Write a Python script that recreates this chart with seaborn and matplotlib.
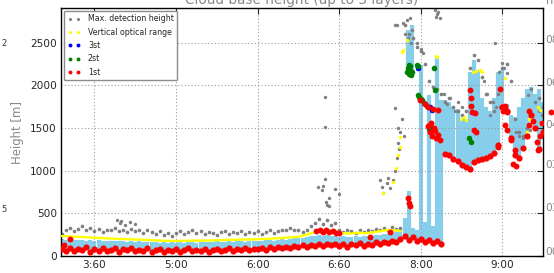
import numpy as np
import pandas as pd
import seaborn as sns
import matplotlib.pyplot as plt
from matplotlib.lines import Line2D

nan = np.nan

# sample grid: decimal hours, every 3 min from 3:36 to 9:30
times = np.round(np.arange(3.6, 9.5001, 0.05), 3)

# max. detection height (gray)
max_det = [260, 300, 330, 290, 320, 350, 300, 330, 290, 320, 280, 310, 300, 330, 290,
           310, 280, 320, 290, 300, 270, 300, 280, 260, 290, 250, 270, 240,
           270, 290, 260, 280, 300, 270, 290, 260, 280, 270, 250, 280, 290, 260, 280,
           270, 290, 260, 280, 270,
           290, 260, 280, 300, 270, 290, 310, 300, 330, 310,
           300, 280, 310, 350, 390, 430, 380, 420, 360, 390,
           310, 280, 300, 290, 270, 300, 280, 310, 290, 320, 300, 330, 310, 340, 320,
           330, 2700, 2600, 2550, 2450, 2400, 2250, 2050, 1980, 1950, 1900,
           1800, 1850, 1750, 1700, 1650, 1700, 2200, 2350, 2300, 2100, 1900, 1800, 1700,
           1900, 2200, 2250, 2050, 1600, 1450, 1400, 1500, 1950, 1800, 1850, 1750]

# vertical optical range (yellow)
vor = [234, 231, 230, 228, 224, 223, 219, 218, 214, 211, 210, 206, 205, 202, 201,
       198, 198, 195, 193, 192, 189, 188, 185, 184, 181, 178, 178, 176,
       176, 177, 179, 178, 180, 181, 180, 182, 181, 183, 186, 185, 187, 189, 190,
       191, 192, 193, 195, 194,
       196, 198, 201, 203, 205, 208, 212, 215, 219, 222,
       225, 235, 250, 265, 280, 295, 300, 305, 295, 290,
       275, 268, 265, 262, 270, 272, 268, 265, 278, 282, 290, 298, 305, 302, 300,
       290] + [nan] * 35

# 1st cloud layer (red)
layer1 = [80, 60, 95, 55, 85, 65, 100, 50, 80, 60, 90, 55, 75, 95, 50,
          80, 65, 90, 55, 75, 60, 90, 50, 70, 85, 45, 75, 60,
          80, 50, 70, 90, 55, 75, 60, 85, 50, 70, 80, 55, 75, 90, 60, 80, 65, 90, 70, 85,
          80, 95, 75, 100, 85, 105, 90, 110, 95, 115,
          110, 125, 105, 130, 120, 140, 115, 135, 125, 145,
          120, 140, 110, 135, 125, 150, 120, 145, 130, 160, 140, 165, 150, 180, 160,
          200, 230, 190, 220, 170, 200, 160, 190, 150, 180, 140,
          1200, 1180, 1140, 1110, 1070, 1040, 1020, 1100, 1120, 1130, 1150, 1170, 1210,
          1300, 1750, 1700, 1380, 1180, 1150, 1260, 1400, 1650, 1500, 1250, 1450]

# top of the light blue column (it starts at the 1st layer)
sky_hi = [195, 190, 200, 188, 185, 192, 180, 186, 178, 182, 175, 180, 172, 178, 170,
          176, 168, 172, 165, 170, 163, 168, 160, 165, 158, 162, 155, 160,
          158, 162, 155, 160, 165, 158, 162, 168, 160, 165, 170, 163, 168, 172, 165,
          170, 175, 168, 172, 178,
          180, 175, 182, 188, 180, 190, 195, 188, 200, 205,
          210, 215, 225, 235, 240, 250, 238, 245, 235, 240,
          225, 230, 220, 228, 232, 225, 235, 240, 232, 245, 250, 255, 262, 270, 280,
          300, 450, 760, 330, 300, 2240, 400, 1880, 350, 2330, 1830,
          1830, 1800, 1740, 1720, 1620, 1600, 2150, 2300, 2180, 1850, 1750, 1700, 1850,
          2150, 2180, 1780, 1650, 1630, 1750, 1850, 1950, 1980, 1900, 1950, 1800]

sky_extra_t = [7.84, 7.89]
sky_extra_lo = [2150, 2100]
sky_extra_hi = [2650, 2700]

# scattered max. detection heights
gray_t = [4.28, 4.31, 4.33, 4.37, 4.44, 4.50,
          6.74, 6.79, 6.80, 6.83, 6.83, 6.83, 6.84, 6.85, 6.87, 6.88, 6.95, 7.00,
          7.50, 7.52, 7.54, 7.58, 7.60, 7.62, 7.66, 7.68, 7.71, 7.73, 7.72, 7.68, 7.72,
          7.74, 7.77, 7.79,
          7.68, 7.71, 7.78, 7.81, 7.83, 7.84, 7.87, 7.88, 7.89,
          7.95, 8.00, 8.03,
          8.17, 8.19, 8.20, 8.21, 8.24,
          8.28, 8.32, 8.36, 8.42, 8.46, 8.50,
          8.77, 8.81, 8.85, 8.88, 8.92, 8.91,
          8.96, 8.99, 9.02, 9.06,
          9.17, 9.20, 9.25, 9.29, 9.34, 9.31, 9.45, 9.49]
gray_h = [420, 385, 410, 365, 400, 370,
          812, 773, 820, 1865, 1514, 901, 636, 597, 585, 675, 784, 722,
          890, 812, 737, 855, 913, 796, 890, 1000, 1150, 1250, 1320, 1730, 1500,
          1450, 1600, 1400,
          2700, 2700, 2730, 2600, 2760, 2550, 2790, 2500, 2650,
          2500, 2420, 2380,
          2880, 2800, 2830, 2860, 2790,
          1900, 1780, 1850, 1700, 1800, 1750,
          2050, 1900, 1650, 1800, 1750, 2500,
          2150, 2260, 2200, 2140,
          1450, 1400, 1380, 1420, 1470, 1880, 1700, 1650]

# scattered vertical optical range
vor_t = [7.54, 7.66, 7.70, 7.72, 7.74, 7.75, 7.77, 7.78, 7.83, 8.19, 8.20,
         8.49, 8.53, 8.55, 8.64, 8.68, 8.72, 8.75, 9.03, 9.30, 9.32, 9.34, 9.43, 9.46]
vor_h = [737, 866, 1030, 1180, 1280, 1390, 2390, 2410, 2530, 2340, 2330,
         1610, 1630, 1590, 2150, 2170, 2180, 2160, 2080, 1450, 1600, 1710, 1745, 1710]

# extra 1st layer detections
red_t = [3.63, 3.70,
         6.72, 6.76, 6.80, 6.84, 6.88, 6.92, 6.96, 7.00, 7.38, 7.62,
         7.84, 7.855, 7.87,
         7.99, 8.05, 8.09, 8.15, 8.21,
         8.09, 8.11, 8.12, 8.14, 8.16, 8.17, 8.19, 8.21, 8.235,
         8.60, 8.61, 8.62, 8.63, 8.66, 8.65, 8.68,
         8.94, 8.97, 8.99, 9.01, 9.03, 9.05, 9.03, 9.06, 9.10, 9.13, 9.15, 9.17,
         9.32, 9.33, 9.37, 9.42, 9.44, 9.46, 9.48]
red_h = [128, 200,
         290, 305, 280, 300, 285, 295, 275, 265, 220, 280,
         680, 620, 590,
         1830, 1780, 1745, 1720, 1710,
         1520, 1450, 1560, 1400, 1500, 1460, 1380, 1420, 1360,
         1940, 1850, 1760, 1690, 1670, 1480, 1450,
         1280, 1955, 1740, 1700, 1760, 1690, 1530, 1480, 1360, 1080, 1240, 1050,
         1530, 1700, 1580, 1330, 1240, 1400, 1560]

# 2nd layer (green) and 3rd layer (blue)
green_t = [7.83, 7.84, 7.85, 7.85, 7.86, 7.87, 7.87, 7.88, 7.89,
           7.95, 7.97, 7.96, 7.98, 8.00, 8.02, 8.04, 8.08, 8.10, 8.11, 8.15,
           8.16, 8.17, 8.59, 8.61]
green_h = [2150, 2200, 2130, 2170, 2240, 2180, 2230, 2120, 2160,
           2240, 2230, 1890, 1860, 1840, 1830, 1790, 1760, 1490, 1530, 1500,
           2200, 1945, 1380, 1340]
blue_t = [7.97, 8.11, 8.14]
blue_h = [2200, 1740, 1715]

# point of the neighbour panel, cut at the right edge
red_out_t = [9.60]
red_out_h = [1690]

# cut-off neighbour panel labels on the right
right_labels = ["08", "06", "04", "03", "01", "00"]
right_label_y = [40, 83, 125, 165, 208, 252]

xtick_pos = [4, 5, 6, 7, 8, 9]
xtick_labels = ["3:60", "5:00", "6:00", "6:60", "8:00", "9:00"]

sns.set_style("white")
plt.rcParams['font.family'] = ['DejaVu Sans']

W, H = 554, 273
fig = plt.figure(figsize=(W / 100, H / 100), dpi=100)
ax = fig.add_axes([61 / W, 17 / H, 482 / W, 248 / H])

ax.vlines(times, layer1, sky_hi, color='skyblue', lw=3.0, zorder=1)
ax.vlines(sky_extra_t, sky_extra_lo, sky_extra_hi, color='skyblue', lw=3.0, zorder=1)

df = pd.DataFrame({"t": times, "maxdet": max_det, "vor": vor, "l1": layer1})
sns.scatterplot(data=df, x="t", y="maxdet", color='gray', s=7, linewidth=0,
                ax=ax, legend=False, zorder=2)
sns.scatterplot(x=gray_t, y=gray_h, color='gray', s=6, linewidth=0, ax=ax,
                legend=False, zorder=2)
sns.lineplot(data=df.dropna(), x="t", y="vor", color='yellow', lw=1.7,
             estimator=None, ax=ax, legend=False, zorder=3)
sns.scatterplot(x=vor_t, y=vor_h, color='yellow', s=6, linewidth=0, ax=ax,
                legend=False, zorder=3)
sns.scatterplot(x=blue_t, y=blue_h, color='blue', s=16, linewidth=0, ax=ax,
                legend=False, zorder=4)
sns.scatterplot(x=green_t, y=green_h, color='green', s=16, linewidth=0, ax=ax,
                legend=False, zorder=4)
sns.scatterplot(data=df, x="t", y="l1", color='red', s=20, linewidth=0, ax=ax,
                legend=False, zorder=5)
sns.scatterplot(x=red_t, y=red_h, color='red', s=18, linewidth=0, ax=ax,
                legend=False, zorder=5)
sns.scatterplot(x=red_out_t, y=red_out_h, color='red', s=18, linewidth=0, ax=ax,
                legend=False, zorder=5)
ax.collections[-1].set_clip_on(False)

ax.set_xlim(3.59, 9.497)
ax.set_ylim(0, 2904)
ax.set_xticks(xtick_pos)
ax.set_xticklabels(xtick_labels)
ax.set_yticks([0, 500, 1000, 1500, 2000, 2500])
ax.set_xlabel("")
ax.set_ylabel("Height [m]", color='#888888', fontsize=8.4, labelpad=4)
ax.tick_params(direction='in', length=4, width=0.8, labelsize=7.6,
               top=True, right=True, pad=3)
ax.set_axisbelow('line')
ax.grid(True, ls=(0, (1, 2)), color='#999999', lw=0.8)
for sp in ax.spines.values():
    sp.set_color('black')
    sp.set_linewidth(1.0)

handles = [
    Line2D([], [], ls='none', marker='.', color='gray', ms=2.5),
    Line2D([], [], ls='none', marker='.', color='yellow', ms=2.5),
    Line2D([], [], ls='none', marker='o', color='blue', ms=2.8, mew=0),
    Line2D([], [], ls='none', marker='o', color='green', ms=2.8, mew=0),
    Line2D([], [], ls='none', marker='o', color='red', ms=2.8, mew=0),
]
labels = ["Max. detection height", "Vertical optical range", "3st", "2st", "1st"]
leg = ax.legend(handles, labels, loc='upper left', numpoints=2, fontsize=5.7,
                frameon=True, fancybox=True, framealpha=1, edgecolor='0.55',
                borderaxespad=0.35, handlelength=1.6, labelspacing=0.55,
                handletextpad=1.0, borderpad=0.45)
leg.set_zorder(10)

fig.text(0.545, 1 - 4 / H, "Cloud base height (up to 3 layers)", color='#888888',
         fontsize=9.8, ha='center', va='baseline')
fig.text(546 / W, 1 - 4 / H, "hR", color='#888888', fontsize=8.4, va='baseline')
for lab, y in zip(right_labels, right_label_y):
    fig.text(545 / W, 1 - y / H, lab, color='#888888', fontsize=7.6, va='center')
fig.text(1 / W, 1 - 44 / H, "2", color='#333333', fontsize=6, va='center')
fig.text(1 / W, 1 - 210 / H, "5", color='#333333', fontsize=6, va='center')

fig.savefig("out.png", dpi=100)
